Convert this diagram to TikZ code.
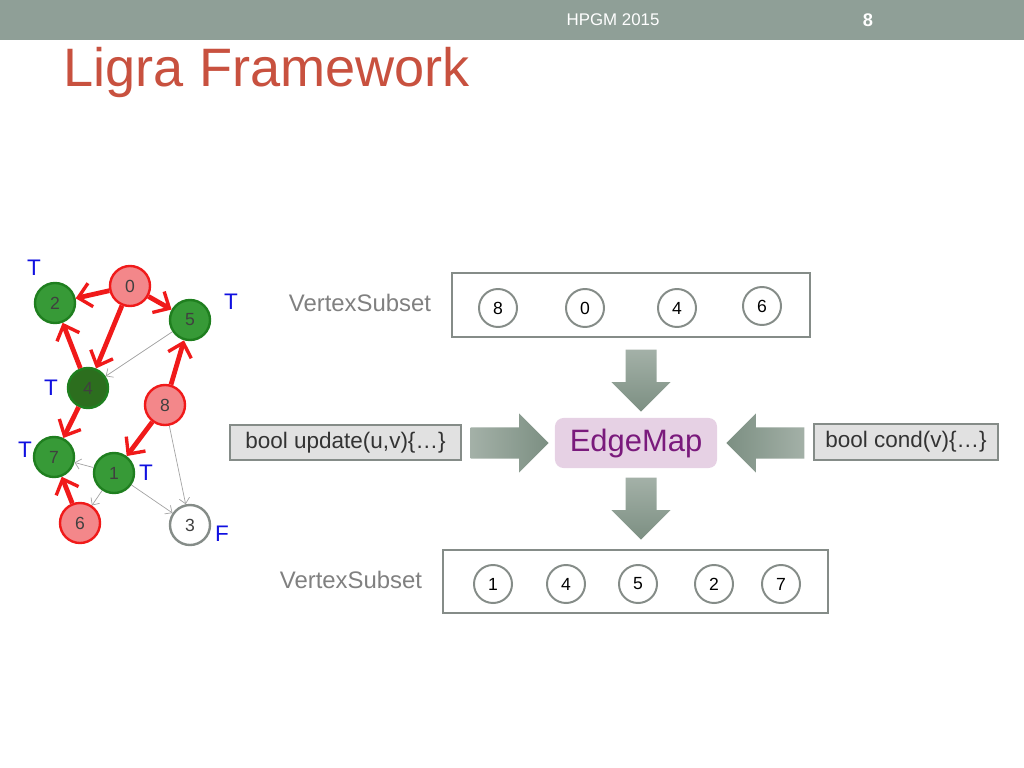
\documentclass[tikz,border=0pt]{standalone}
\usepackage{fontspec}
\setmainfont{Liberation Sans}
\usetikzlibrary{arrows.meta, positioning, shapes.arrows}
\definecolor{chdr}{HTML}{8F9F97}
\definecolor{ctitle}{HTML}{C8513F}
\definecolor{cedge}{HTML}{F01A1A}
\definecolor{cpink}{HTML}{F3878A}
\definecolor{cgreen}{HTML}{379A37}
\definecolor{cgreenb}{HTML}{1F7F1F}
\definecolor{cdark}{HTML}{2C6E1E}
\definecolor{cflag}{HTML}{1010E0}
\definecolor{cthin}{HTML}{A3A3A3}
\definecolor{cbox}{HTML}{858C88}
\definecolor{cfill}{HTML}{E1E1E1}
\definecolor{clav}{HTML}{E6D1E4}
\definecolor{cplum}{HTML}{7A1A7C}
\definecolor{cblock}{HTML}{7C8F82}
\tikzset{
  every picture/.style={line width=1pt},
  gnode/.style={circle, minimum size=1cm, inner sep=0pt, line width=1.7pt, text=black!75, font=\fontsize{12.5}{14}\selectfont},
  rednode/.style={gnode, draw=cedge, fill=cpink},
  greennode/.style={gnode, draw=cgreenb, fill=cgreen},
  flag/.style={text=cflag, font=\fontsize{16}{18}\selectfont},
  hot/.style={-{Straight Barb[length=3.2mm, width=6mm, line width=2.4pt]}, draw=cedge, line width=3.4pt},
  cold/.style={-{Straight Barb[length=1.4mm, width=2.6mm]}, draw=cthin, line width=0.5pt},
  setbox/.style={draw=cbox, line width=1.6pt, inner sep=0pt},
  slot/.style={circle, draw=cbox, line width=1.4pt, minimum size=0.95cm, inner sep=0pt, font=\fontsize{12.5}{14}\selectfont},
  setlabel/.style={text=black!50, font=\fontsize{17}{20}\selectfont},
  fnbox/.style={draw=cbox, fill=cfill, line width=0.8pt, inner sep=0pt, text=black!80, font=\fontsize{16}{18}\selectfont},
  blockarrow/.style={single arrow, minimum width=1.45cm, single arrow head extend=0.35cm, draw=none},
  harrow/.style={blockarrow, inner xsep=0pt, inner ysep=0.37cm, minimum height=1.95cm},
  varrow/.style={blockarrow, inner ysep=0pt, inner xsep=0.37cm, minimum height=1.55cm, shape border rotate=270,
    top color=cblock!70, bottom color=cblock},
}
\begin{document}
\begin{tikzpicture}[x=0.025cm, y=-0.025cm]
  \useasboundingbox (0,0) rectangle (1024,768);
  % header bar and title
  \fill[chdr] (0,0) rectangle (1024,40);
  \node[text=white, font=\fontsize{12}{14}\selectfont] (conf) at (613,20) {HPGM 2015};
  \node[text=white, font=\bfseries\fontsize{13}{15}\selectfont] (page) at (868,20) {8};
  \node[anchor=base west, text=ctitle, inner sep=0pt, font=\fontsize{38.5}{40}\selectfont] (title) at (63,87) {Ligra Framework};
  % graph
  \node[rednode] (n0) at (130,286) {0};
  \node[greennode] (n2) at (55,303) {2};
  \node[greennode] (n5) at (190,320) {5};
  \node[gnode, draw=cgreenb, fill=cdark] (n4) at (88,388) {4};
  \node[rednode] (n8) at (165,405) {8};
  \node[greennode] (n7) at (54,457) {7};
  \node[greennode] (n1) at (114,473) {1};
  \node[rednode] (n6) at (80,523) {6};
  \node[gnode, draw=cbox, fill=white] (n3) at (190,525) {3};
  \node[flag] (f2) at (34,268) {T};
  \node[flag] (f5) at (231,302) {T};
  \node[flag] (f4) at (51,388) {T};
  \node[flag] (f7) at (25,450) {T};
  \node[flag] (f1) at (146,473) {T};
  \node[flag] (f3) at (222,534) {F};
  \draw[hot] (n0) -- (n2);
  \draw[hot] (n0) -- (n5);
  \draw[hot] (n0) -- (n4);
  \draw[hot] (n4) -- (n2);
  \draw[hot] (n4) -- (n7);
  \draw[hot] (n8) -- (n5);
  \draw[hot] (n8) -- (n1);
  \draw[hot] (n6) -- (n7);
  \draw[cold] (n5) -- (n4);
  \draw[cold] (n1) -- (n7);
  \draw[cold] (n1) -- (n6);
  \draw[cold] (n1) -- (n3);
  \draw[cold] (n8) -- (n3);
  % input frontier
  \node[setlabel] (inlabel) at (360,303) {VertexSubset};
  \node[setbox, minimum width=8.95cm, minimum height=1.6cm] (inset) at (631,305) {};
  \node[slot] (i8) at (498,308) {8};
  \node[slot] (i0) at (585,308) {0};
  \node[slot] (i4) at (677,308) {4};
  \node[slot] (i6) at (762,306) {6};
  % edgeMap and its functions
  \node[fill=clav, rounded corners=6pt, minimum width=4.05cm, minimum height=1.25cm, inner sep=0pt,
    text=cplum, font=\fontsize{22}{24}\selectfont] (emap) at (636,443) {EdgeMap};
  \node[fnbox, minimum width=5.775cm, minimum height=0.875cm] (upd) at (345.5,442.5) {bool update(u,v)\{…\}};
  \node[fnbox, minimum width=4.6cm, minimum height=0.9cm] (cond) at (906,442) {bool cond(v)\{…\}};
  \node[varrow, anchor=tail] (down1) at (641,349) {};
  \node[harrow, anchor=tail, left color=cblock!70, right color=cblock] (right1) at (470,443) {};
  \node[harrow, anchor=tail, shape border rotate=180, left color=cblock, right color=cblock!70] (left1) at (805,443) {};
  \node[varrow, anchor=tail] (down2) at (641,477) {};
  % output frontier
  \node[setlabel] (outlabel) at (351,580) {VertexSubset};
  \node[setbox, minimum width=9.625cm, minimum height=1.575cm] (outset) at (635.5,581.5) {};
  \node[slot] (o1) at (493,584) {1};
  \node[slot] (o4) at (566,584) {4};
  \node[slot] (o5) at (638,584) {5};
  \node[slot] (o2) at (714,584) {2};
  \node[slot] (o7) at (781,584) {7};
\end{tikzpicture}
\end{document}
